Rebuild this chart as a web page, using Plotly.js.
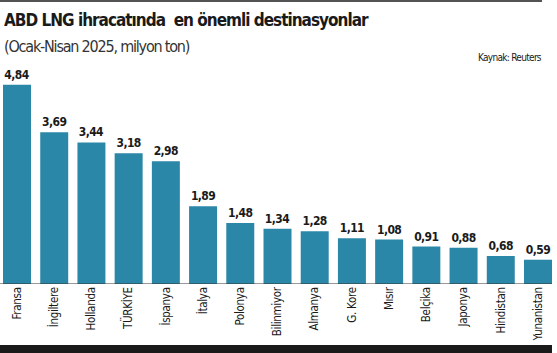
<!DOCTYPE html>
<html><head><meta charset="utf-8">
<script src="https://cdn.plot.ly/plotly-3.0.1.min.js"></script>
<style>html,body{margin:0;padding:0;background:#fff;}#c{width:557px;height:353px;}</style>
</head><body><div id="c"></div>
<script>
const countries = ["Fransa","İngiltere","Hollanda","TÜRKİYE","İspanya","İtalya","Polonya","Bilinmiyor","Almanya","G. Kore","Mısır","Belçika","Japonya","Hindistan","Yunanistan"];
const values = [4.84,3.69,3.44,3.18,2.98,1.89,1.48,1.34,1.28,1.11,1.08,0.91,0.88,0.68,0.59];
const valueLabels = values.map(v => '<span style="letter-spacing:-0.6px">' + v.toFixed(2).replace('.', ',') + '</span>');
const narrow = '"DejaVu Sans Condensed", "Liberation Sans Narrow", sans-serif';
const idx = countries.map((_, i) => i);
const trace = {
  type: 'bar', x: idx, y: values,
  marker: {color: '#2b87a7'},
  text: valueLabels, textposition: 'outside', cliponaxis: false,
  textfont: {family: narrow, size: 12, color: '#1a1a1a', weight: 'bold'},
  hoverinfo: 'none'
};
const layout = {
  width: 557, height: 353,
  margin: {l: 0, r: 0, t: 70, b: 69, pad: 0},
  paper_bgcolor: '#fff', plot_bgcolor: '#fff',
  showlegend: false, bargap: 0.248,
  xaxis: {range: [-0.457, 14.511], tickmode: 'array', tickvals: idx,
    ticktext: countries.map(c => '<span style="letter-spacing:-0.3px">' + c + '</span>'),
    tickangle: -90, ticks: '', showgrid: false, zeroline: false, showline: false,
    tickfont: {family: narrow, size: 11.5, color: '#1a1a1a'}, fixedrange: true},
  yaxis: {range: [0, 5.2], visible: false, fixedrange: true},
  shapes: [
    {type: 'line', xref: 'paper', yref: 'paper', x0: 0, x1: 0.973, y0: 1.322, y1: 1.322, line: {color: '#1a1a1a', width: 1.5}},
    {type: 'line', xref: 'paper', yref: 'y', x0: 0, x1: 0.991, y0: 0, y1: 0, line: {color: '#333', width: 1}},
    {type: 'rect', xref: 'paper', yref: 'paper', x0: 0, x1: 0.991, y0: -0.33, y1: -0.285, fillcolor: '#1a1a1a', line: {width: 0}}
  ],
  annotations: [
    {xref: 'paper', yref: 'paper', x: 0.004, y: 1.235, xanchor: 'left', yanchor: 'middle', showarrow: false,
     text: '<span style="letter-spacing:-1px">ABD LNG ihracatında  en önemli destinasyonlar</span>',
     font: {family: narrow, size: 17, color: '#1a1a1a', weight: 'bold'}},
    {xref: 'paper', yref: 'paper', x: 0.004, y: 1.112, xanchor: 'left', yanchor: 'middle', showarrow: false,
     text: '<span style="letter-spacing:-1.2px">(Ocak-Nisan 2025, milyon ton)</span>',
     font: {family: narrow, size: 16, color: '#333'}},
    {xref: 'paper', yref: 'paper', x: 0.976, y: 1.058, xanchor: 'right', yanchor: 'middle', showarrow: false,
     text: '<span style="letter-spacing:-0.7px">Kaynak: Reuters</span>',
     font: {family: narrow, size: 10, color: '#1a1a1a'}}
  ]
};
Plotly.newPlot('c', [trace], layout, {displayModeBar: false, staticPlot: true});
</script></body></html>
